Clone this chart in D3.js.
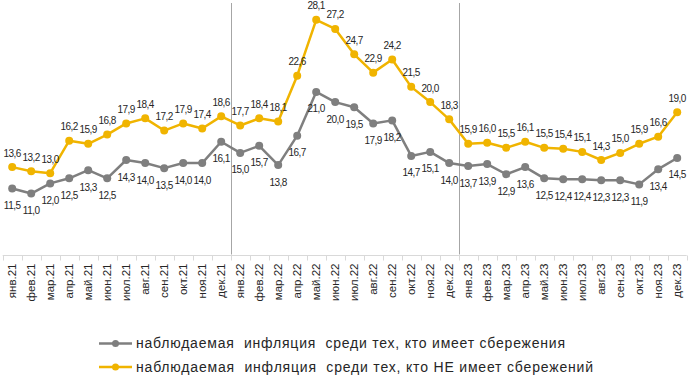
<!DOCTYPE html>
<html>
<head>
<meta charset="utf-8">
<script src="https://cdn.jsdelivr.net/npm/d3@7"></script>
<style>
  body { margin: 0; background: #fff; }
  svg { font-family: "Liberation Sans", Arial, sans-serif; }
</style>
</head>
<body>
<div id="chart"></div>
<script>
const width = 700
const height = 377

const months = ['янв', 'фев', 'мар', 'апр', 'май', 'июн', 'июл', 'авг', 'сен', 'окт', 'ноя', 'дек']
const years = ['21', '22', '23']
const categories = years.flatMap(y => months.map(m => m + '.' + y))

// наблюдаемая инфляция среди тех, кто имеет сбережения
const withSavings = [11.5, 11.0, 12.0, 12.5, 13.3, 12.5, 14.3, 14.0, 13.5, 14.0, 14.0, 16.1,
    15.0, 15.7, 13.8, 16.7, 21.0, 20.0, 19.5, 17.9, 18.2, 14.7, 15.1, 14.0,
    13.7, 13.9, 12.9, 13.6, 12.5, 12.4, 12.4, 12.3, 12.3, 11.9, 13.4, 14.5]
// наблюдаемая инфляция среди тех, кто НЕ имеет сбережений
const withoutSavings = [13.6, 13.2, 13.0, 16.2, 15.9, 16.8, 17.9, 18.4, 17.2, 17.9, 17.4, 18.6,
    17.7, 18.4, 18.1, 22.6, 28.1, 27.2, 24.7, 22.9, 24.2, 21.5, 20.0, 18.3,
    15.9, 16.0, 15.5, 16.1, 15.5, 15.4, 15.1, 14.3, 15.0, 15.9, 16.6, 19.0]

const seriesNames = [
    'наблюдаемая  инфляция  среди тех, кто имеет сбережения',
    'наблюдаемая  инфляция  среди тех, кто НЕ имеет сбережений'
]
const yDomain = [5, 30]

const series = [
    { name: seriesNames[0], values: withSavings, color: '#7f7f7f', labelDy: 17, legendW: 429 },
    { name: seriesNames[1], values: withoutSavings, color: '#f0b400', labelDy: -14, legendW: 457 }
]

const svg = d3.select('#chart').append('svg')
    .attr('width', width)
    .attr('height', height)

const x = d3.scaleBand().domain(categories).range([2.7, 686.7])
const y = d3.scaleLinear().domain(yDomain).range([254.5, 0.5])
const fmt = v => d3.format('.1f')(v).replace('.', ',')

// year dividers
svg.append('g').selectAll('line')
    .data(['янв.22', 'янв.23'])
    .join('line')
    .attr('x1', d => Math.round(x(d)) + 0.5)
    .attr('x2', d => Math.round(x(d)) + 0.5)
    .attr('y1', 3)
    .attr('y2', y(yDomain[0]))
    .attr('stroke', '#a6a6a6')
    .attr('stroke-width', 1)

// x axis
const xAxis = svg.append('g')
    .attr('transform', `translate(0, ${Math.round(y(yDomain[0])) + 0.5})`)
xAxis.append('line')
    .attr('x1', x.range()[0]).attr('x2', x.range()[1])
    .attr('stroke', '#d9d9d9')
xAxis.selectAll('line.tick')
    .data(categories.concat(['end']))
    .join('line')
    .attr('class', 'tick')
    .attr('x1', (d, i) => Math.round(x.range()[0] + i * x.step()) + 0.5)
    .attr('x2', (d, i) => Math.round(x.range()[0] + i * x.step()) + 0.5)
    .attr('y1', 0).attr('y2', 5)
    .attr('stroke', '#d9d9d9')
xAxis.selectAll('text')
    .data(categories)
    .join('text')
    .attr('transform', d => `translate(${x(d) + x.bandwidth() / 2 + 4}, 8) rotate(-90)`)
    .attr('text-anchor', 'end')
    .attr('font-size', 11.5)
    .attr('fill', '#262626')
    .text(d => d)

// lines, markers, labels
const line = d3.line()
    .x((d, i) => x(categories[i]) + x.bandwidth() / 2)
    .y(d => y(d))

series.forEach(s => {
    const g = svg.append('g')
    g.append('path')
        .datum(s.values)
        .attr('d', line)
        .attr('fill', 'none')
        .attr('stroke', s.color)
        .attr('stroke-width', 2.5)
        .attr('stroke-linejoin', 'round')
    g.selectAll('circle')
        .data(s.values)
        .join('circle')
        .attr('cx', (d, i) => x(categories[i]) + x.bandwidth() / 2)
        .attr('cy', d => y(d))
        .attr('r', 4)
        .attr('fill', s.color)
    g.selectAll('text')
        .data(s.values)
        .join('text')
        .attr('x', (d, i) => x(categories[i]) + x.bandwidth() / 2)
        .attr('y', d => y(d) + s.labelDy)
        .attr('dy', '0.35em')
        .attr('text-anchor', 'middle')
        .attr('font-size', 10)
        .attr('letter-spacing', -0.5)
        .attr('fill', '#262626')
        .text(fmt)
})

// legend
const legend = svg.append('g')
const legendY = [343.5, 367]
series.forEach((s, i) => {
    const lg = legend.append('g').attr('transform', `translate(99, ${legendY[i]})`)
    lg.append('line').attr('x1', 0).attr('x2', 33)
        .attr('stroke', s.color).attr('stroke-width', 2.5)
    lg.append('circle').attr('cx', 16.5).attr('r', 3.5).attr('fill', s.color)
    lg.append('text')
        .attr('x', 37)
        .attr('dy', '0.35em')
        .attr('font-size', 14)
        .attr('fill', '#262626')
        .attr('textLength', s.legendW)
        .attr('lengthAdjust', 'spacing')
        .style('white-space', 'pre')
        .text(s.name)
})
</script>
</body>
</html>
